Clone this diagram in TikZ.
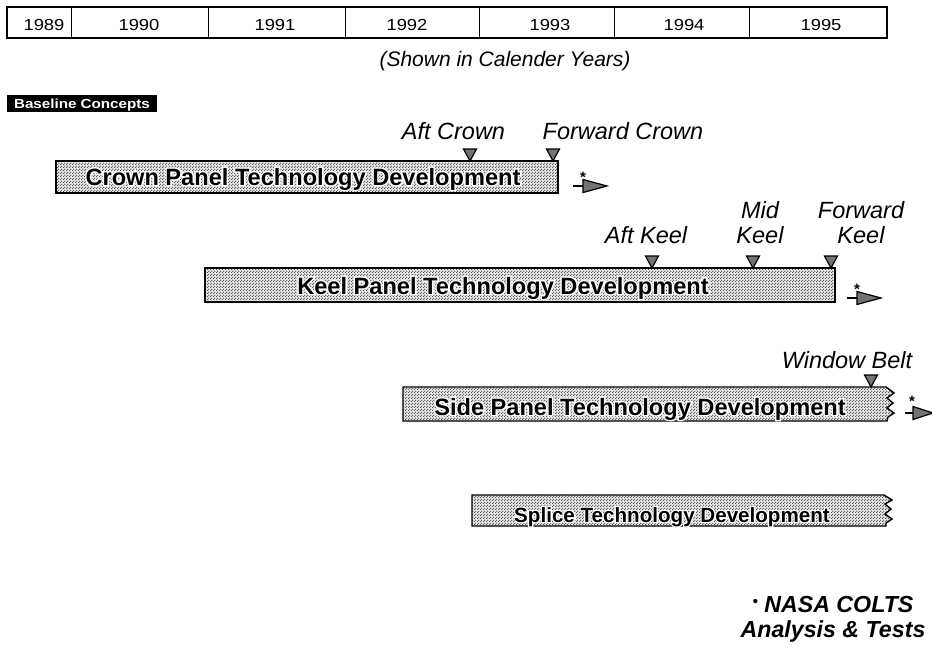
\documentclass[tikz,border=0pt]{standalone}
\usepackage{fontspec}
\setmainfont{Liberation Sans}
\newfontfamily\widesans[FakeStretch=1.15]{Liberation Sans}
\newfontface\haloface[FakeBold=12]{Liberation Sans Bold}
\usetikzlibrary{patterns}
\pgfdeclarepatternformonly{dotgrid}{\pgfpointorigin}{\pgfpoint{3pt}{3pt}}{\pgfpoint{3pt}{3pt}}{%
  \pgfpathcircle{\pgfpoint{0.75pt}{0.75pt}}{0.78pt}%
  \pgfpathcircle{\pgfpoint{2.25pt}{2.25pt}}{0.78pt}%
  \pgfusepath{fill}}
\newcommand\halo[1]{\leavevmode\rlap{\haloface\textcolor{white}{#1}}#1}
\tikzset{
  bar/.style={draw=black, line width=1.4pt, preaction={fill=gray!18}, pattern=dotgrid, pattern color=black!75},
  bartext/.style={font=\bfseries\fontsize{23.6}{24}\selectfont, anchor=base, inner sep=0pt},
  smalltext/.style={font=\bfseries\fontsize{20.6}{21}\selectfont, anchor=base, inner sep=0pt},
  lbl/.style={font=\itshape\fontsize{23.5}{25}\selectfont, anchor=base, inner sep=0pt},
  lbltwo/.style={font=\itshape\fontsize{23.5}{25}\selectfont, align=center, anchor=north, inner sep=0pt},
  yr/.style={font=\widesans\fontsize{16}{16}\selectfont, anchor=base, inner sep=0pt},
  mstone/.style={draw=black, line width=1.2pt, fill=black!55},
  headstyle/.style={draw=black, line width=1.2pt, fill=black!55},
  stem/.style={line width=2.2pt},
  star/.style={font=\bfseries\fontsize{15}{15}\selectfont, inner sep=0pt},
  note/.style={font=\bfseries\itshape\fontsize{23.2}{24.5}\selectfont, align=center, anchor=north, inner sep=0pt}
}
\newcommand\tri[2]{\draw[mstone] (#1,#2) -- (#1-6.5,#2-12) -- (#1+6.5,#2-12) -- cycle;}
\newcommand\colts[3]{%
  \coordinate (#1-s) at (#2,#3);
  \coordinate (#1-e) at (#2+15,#3);
  \draw[stem] (#1-s) -- (#1-e);
  \draw[headstyle] (#2+10,#3-6.5) -- (#2+34,#3) -- (#2+10,#3+6.5) -- cycle;
  \node[star] (#1-star) at (#2+10,#3-9) {*};}
\begin{document}
\begin{tikzpicture}[x=1pt,y=-1pt]
\useasboundingbox (0,0) rectangle (932,648);
\fill[white] (0,0) rectangle (932,648);

% year table
\draw[line width=1.6pt] (7,7) rectangle (887,38);
\foreach \xx in {71,208,345,479,614,749} \draw[line width=1pt] (\xx,7) -- (\xx,38);
\node[yr] (y89) at (44,30.5) {1989};
\node[yr] (y90) at (139,30.5) {1990};
\node[yr] (y91) at (275,30.5) {1991};
\node[yr] (y92) at (407,30.5) {1992};
\node[yr] (y93) at (550,30.5) {1993};
\node[yr] (y94) at (684,30.5) {1994};
\node[yr] (y95) at (821,30.5) {1995};
\node[font=\itshape\fontsize{21}{22}\selectfont, anchor=base, inner sep=0pt] (cap) at (505,66) {(Shown in Calender Years)};

% baseline concepts
\fill[black] (7,95) rectangle (157,112);
\node[font=\widesans\bfseries\fontsize{13.2}{13}\selectfont, text=white, anchor=base, inner sep=0pt] (base) at (82,108.5) {Baseline Concepts};

% crown
\draw[bar] (56,161) rectangle (558,193);
\node[bartext] (crown) at (303,185) {\halo{Crown Panel Technology Development}};
\tri{470}{161}
\tri{553}{161}
\node[lbl] (aftc) at (453.5,139) {Aft Crown};
\node[lbl] (fwdc) at (623,139) {Forward Crown};
\colts{ac}{573}{186}

% keel
\draw[bar] (205,268) rectangle (835,302);
\node[bartext] (keel) at (503,294) {\halo{Keel Panel Technology Development}};
\tri{652}{268}
\tri{753}{268}
\tri{831}{268}
\node[lbl] (aftk) at (646,243) {Aft Keel};
\node[lbltwo] (midk) at (760,201.2) {Mid\\Keel};
\node[lbltwo] (fwdk) at (861,201.2) {Forward\\Keel};
\colts{ak}{847}{298}

% side
\draw[bar] (403,387) -- (886,387) -- (894,393) -- (887,398) -- (893,403) -- (887,408) -- (894,413) -- (888,417) -- (887,421) -- (403,421) -- cycle;
\node[bartext] (side) at (640,415) {\halo{Side Panel Technology Development}};
\tri{871}{387}
\node[lbl] (wb) at (847,368) {Window Belt};
\coordinate (ss) at (905,413);
\coordinate (se) at (918,413);
\draw[stem] (ss) -- (se);
\draw[headstyle] (913,406.5) -- (933,413) -- (913,419.5) -- cycle;
\node[star] (sstar) at (912,401) {*};

% splice
\draw[bar] (472,495) -- (884,495) -- (892,500) -- (885,504) -- (891,509) -- (885,514) -- (892,519) -- (886,523) -- (886,526) -- (472,526) -- cycle;
\node[smalltext] (splice) at (672,522) {\halo{Splice Technology Development}};

% note
\node[note] (note) at (833,596.4) {\raisebox{6pt}{\fontsize{15}{15}\selectfont\textbullet}\ NASA COLTS\\Analysis \& Tests};
\end{tikzpicture}
\end{document}
